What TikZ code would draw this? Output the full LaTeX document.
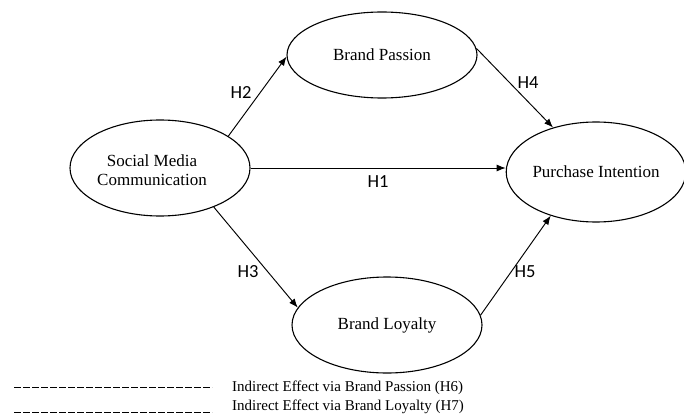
\documentclass[tikz,border=0pt]{standalone}
\usepackage{fontspec}
\setmainfont{Liberation Serif}
\newfontfamily\hfont{Carlito}
\usetikzlibrary{shapes.geometric,arrows.meta}
\begin{document}
\begin{tikzpicture}[x=1pt,y=-1pt,
  construct/.style={ellipse,draw,line width=1.1pt,inner sep=0pt,align=center,font=\fontsize{17}{19}\selectfont},
  lbl/.style={inner sep=0pt,align=center,font=\fontsize{17}{19}\selectfont},
  path/.style={line width=0.95pt,-{Latex[length=9pt,width=7pt]}},
  hlab/.style={font=\hfont\fontsize{18.5}{20}\selectfont,inner sep=0pt},
  legline/.style={line width=0.9pt,dash pattern=on 6.5pt off 2.5pt},
  legtext/.style={anchor=base west,inner sep=0pt,font=\fontsize{15}{16}\selectfont}]
\useasboundingbox (0,0) rectangle (684,414);
\node[construct,minimum width=180pt,minimum height=96pt] (smc) at (160,168) {};
\node[lbl] (smct) at (152,170) {Social Media\\Communication};
\node[construct,minimum width=190pt,minimum height=86pt] (bp) at (382,55) {Brand Passion};
\node[construct,minimum width=176pt,minimum height=100pt] (pi) at (596,172) {Purchase Intention};
\node[construct,minimum width=190pt,minimum height=96pt] (bl) at (387,325) {Brand Loyalty};
\draw[path] (smc.25) -- (bp.181);
\draw[path] (smc.east) -- (smc.east -| pi.west);
\draw[path] (smc.-36) -- (bl.169);
\draw[path] (bp.4) -- (pi.134);
\draw[path] (bl.6) -- (pi.224);
\node[hlab] (h1) at (378,182) {H1};
\node[hlab] (h2) at (241,92) {H2};
\node[hlab] (h3) at (248,272) {H3};
\node[hlab] (h4) at (528,83) {H4};
\node[hlab] (h5) at (525,272) {H5};
\coordinate (a1) at (14,387);
\coordinate (b1) at (212,387);
\coordinate (a2) at (14,412.5);
\coordinate (b2) at (212,412.5);
\draw[legline] (a1) -- (b1);
\draw[legline] (a2) -- (b2);
\node[legtext] (t1) at (232,391) {Indirect Effect via Brand Passion (H6)};
\node[legtext] (t2) at (232,410.5) {Indirect Effect via Brand Loyalty (H7)};
\end{tikzpicture}
\end{document}
